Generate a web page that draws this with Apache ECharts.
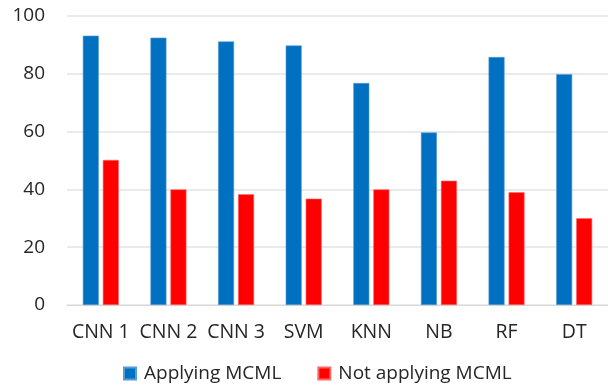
<!DOCTYPE html>
<html>
<head>
<meta charset="utf-8">
<script src="https://cdn.jsdelivr.net/npm/echarts@6/dist/echarts.min.js"></script>
<style>
  html, body { margin: 0; padding: 0; background: #ffffff; }
  #chart { width: 608px; height: 387px; }
</style>
</head>
<body>
<div id="chart"></div>
<script>
// Accuracy (%) of each classifier with and without MCML
const categories = ['CNN 1', 'CNN 2', 'CNN 3', 'SVM', 'KNN', 'NB', 'RF', 'DT'];
const applyingMCML = [93.2, 92.5, 91.2, 89.8, 76.8, 59.7, 85.8, 79.9];
const notApplyingMCML = [50.2, 40.0, 38.3, 36.8, 40.0, 43.0, 39.0, 30.0];
const seriesNames = ['Applying MCML', 'Not applying MCML'];

const FONT = '"Open Sans", "Liberation Sans", sans-serif';
const TEXT = '#262626';

const chart = echarts.init(document.getElementById('chart'), null, { renderer: 'canvas' });
chart.setOption({
  animation: false,
  backgroundColor: '#ffffff',
  grid: { left: 67, top: 16, width: 552, height: 289, containLabel: false },
  legend: {
    data: seriesNames,
    top: 364,
    left: 123,
    padding: 0,
    itemWidth: 12,
    itemHeight: 12,
    itemGap: 36,
    icon: 'rect',
    textStyle: { fontFamily: FONT, fontSize: 19, color: TEXT, padding: [0, 0, 0, 3] }
  },
  xAxis: {
    type: 'category',
    data: categories,
    axisLine: { lineStyle: { color: '#d9d9d9', width: 1 } },
    axisTick: { show: false },
    axisLabel: { fontFamily: FONT, fontSize: 19.5, color: TEXT, margin: 17, interval: 0 }
  },
  yAxis: {
    type: 'value',
    min: 0,
    max: 100,
    interval: 20,
    axisLine: { show: false },
    axisTick: { show: false },
    splitLine: { lineStyle: { color: '#e3e3e3', width: 1.5 } },
    axisLabel: { fontFamily: FONT, fontSize: 19, color: TEXT, margin: 22 }
  },
  series: [
    {
      name: seriesNames[0],
      type: 'bar',
      data: applyingMCML,
      barWidth: 16,
      barGap: '25%',
      itemStyle: { color: '#0070c0', borderColor: '#5b9bd5', borderWidth: 0.6 }
    },
    {
      name: seriesNames[1],
      type: 'bar',
      data: notApplyingMCML,
      barWidth: 16,
      barGap: '25%',
      itemStyle: { color: '#ff0000', borderColor: '#ff6666', borderWidth: 0.6 }
    }
  ]
});
</script>
</body>
</html>
